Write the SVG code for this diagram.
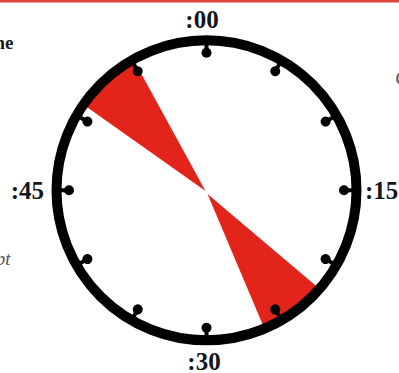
<svg xmlns="http://www.w3.org/2000/svg" width="399" height="373" viewBox="0 0 399 373" xmlns:xlink="http://www.w3.org/1999/xlink">
  <style>
    .lbl { font-family: "Liberation Serif", "Times New Roman", serif; font-weight: bold; font-size: 25px; fill: #15151c; }
    .side { font-family: "Liberation Serif", "Times New Roman", serif; font-size: 19px; }
    .wedge { fill: #e3241a; }
  </style>
  <defs>
    <g id="tick">
      <line x1="206.5" y1="52.8" x2="206.5" y2="42" stroke="#000" stroke-width="4"/>
      <circle cx="206.5" cy="52.8" r="5" fill="#000"/>
    </g>
  </defs>
  <rect id="topBar" x="0" y="0" width="399" height="2.5" fill="#e2433b"/>
  <g id="sideText">
    <text class="side" x="13.5" y="48.5" text-anchor="end" font-weight="bold" fill="#1a1a1a">ne</text>
    <text class="side" x="10.5" y="265" text-anchor="end" font-style="italic" font-size="18" fill="#555">pt</text>
    <text class="side" x="395.5" y="85" fill="#555">C</text>
  </g>
  <g id="wedges">
    <path id="wedgeTop" class="wedge" d="M205.5,191 L85,105.8 A148,148 0 0 1 134.3,61.1 Z"/>
    <path id="wedgeBottom" class="wedge" d="M207.5,194 L318,287.6 A148,148 0 0 1 263.6,326.8 Z"/>
  </g>
  <g id="clockFace">
    <circle id="ring" cx="206.5" cy="190.3" r="150" fill="none" stroke="#000" stroke-width="10"/>
    <g id="ticks">
      <use xlink:href="#tick"/>
      <use xlink:href="#tick" transform="rotate(30 206.5 190.3)"/>
      <use xlink:href="#tick" transform="rotate(60 206.5 190.3)"/>
      <use xlink:href="#tick" transform="rotate(90 206.5 190.3)"/>
      <use xlink:href="#tick" transform="rotate(120 206.5 190.3)"/>
      <use xlink:href="#tick" transform="rotate(150 206.5 190.3)"/>
      <use xlink:href="#tick" transform="rotate(180 206.5 190.3)"/>
      <use xlink:href="#tick" transform="rotate(210 206.5 190.3)"/>
      <use xlink:href="#tick" transform="rotate(240 206.5 190.3)"/>
      <use xlink:href="#tick" transform="rotate(270 206.5 190.3)"/>
      <use xlink:href="#tick" transform="rotate(300 206.5 190.3)"/>
      <use xlink:href="#tick" transform="rotate(330 206.5 190.3)"/>
    </g>
  </g>
  <g id="labels">
    <text id="l00" class="lbl" x="202" y="28" text-anchor="middle">:00</text>
    <text id="l15" class="lbl" x="365" y="199">:15</text>
    <text id="l30" class="lbl" x="204" y="370" text-anchor="middle">:30</text>
    <text id="l45" class="lbl" x="44" y="199" text-anchor="end">:45</text>
  </g>
</svg>
